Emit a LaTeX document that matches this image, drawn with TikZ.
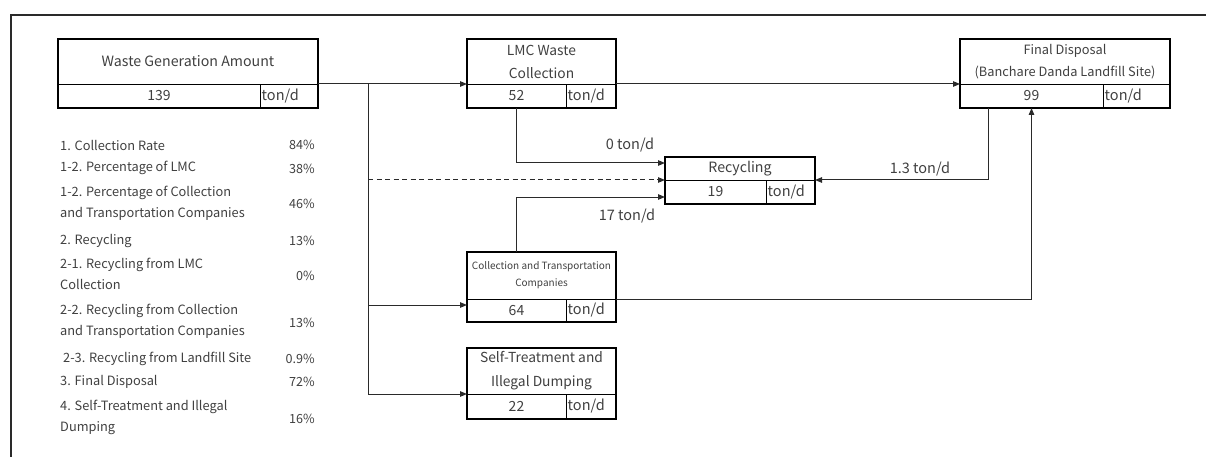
\documentclass[tikz,border=0pt]{standalone}
\usepackage{fontspec}
\setmainfont{Noto Sans CJK JP}
\usetikzlibrary{arrows.meta,calc,fit}

\definecolor{textgray}{HTML}{404040}
\definecolor{linegray}{HTML}{2A2A2A}

% one flow box: title row on top, value + unit row below
% #1 name, #2 left, #3 top, #4 value/unit split, #5 row split, #6 right, #7 bottom, #8 value
\newcommand\flowbox[8]{%
  \node[cell, fit={(#2,#3) (#6,#5)}] (#1-t) {};
  \node[cell, fit={(#2,#5) (#4,#7)}] (#1-v) {};
  \node[cell, fit={(#4,#5) (#6,#7)}] (#1-u) {};
  \node[val] (#1-n) at (#1-v.center) {#8};
  \node[unit, anchor=west] (#1-d) at ($(#1-u.west)+(1.5,0)$) {ton/d};
  \draw[frame] (#1-t.north west) rectangle (#1-u.south east);
}

\begin{document}
\begin{tikzpicture}[x=1pt,y=-1pt,
  cell/.style={draw=black, line width=0.8pt, inner sep=0pt, outer sep=0pt},
  frame/.style={draw=black, line width=2pt},
  txt/.style={text=textgray, inner sep=0pt},
  val/.style={txt, font=\fontsize{14}{15}\selectfont},
  unit/.style={txt, font=\fontsize{14.5}{15}\selectfont},
  ttl/.style={txt, align=center},
  lst/.style={txt, font=\fontsize{12.8}{21}\selectfont, align=left, anchor=west},
  pct/.style={txt, font=\fontsize{12.6}{14}\selectfont, anchor=east},
  lbl/.style={txt, font=\fontsize{14.5}{15}\selectfont},
  flow/.style={draw=linegray, line width=1pt},
  tip/.style={-{Triangle[length=7pt,width=5.5pt]}},
]
\useasboundingbox (0,0) rectangle (1206,457);

% page frame
\draw[line width=1.2pt, draw=linegray] (11,457) -- (11,15) -- (1206,15);

% boxes
\flowbox{wg}{58}{39}{260}{84}{318}{108}{139}
\flowbox{lmc}{467}{39}{566}{84}{616}{108}{52}
\flowbox{fd}{960}{39}{1103}{84}{1170}{108}{99}
\flowbox{rec}{665}{157}{766}{180}{815}{204}{19}
\flowbox{cc}{467}{252}{566}{299}{616}{322}{64}
\flowbox{st}{467}{348}{566}{394}{616}{419}{22}

% box titles
\node[ttl, font=\fontsize{14.2}{23}\selectfont] (wg-l) at (wg-t.center) {Waste Generation Amount};
\node[ttl, font=\fontsize{13.8}{23}\selectfont] (lmc-l) at (lmc-t.center) {LMC Waste\\Collection};
\node[ttl, font=\fontsize{12.8}{22}\selectfont] (fd-l) at (fd-t.center) {Final Disposal\\(Banchare Danda Landfill Site)};
\node[ttl, font=\fontsize{14.2}{23}\selectfont] (rec-l) at (rec-t.center) {Recycling};
\node[ttl, font=\fontsize{10}{17}\selectfont] (cc-l) at (cc-t.center) {Collection and Transportation\\Companies};
\node[ttl, font=\fontsize{13.8}{24}\selectfont] (st-l) at (st-t.center) {Self-Treatment and\\Illegal Dumping};

% indicators
\node[lst] (i1)  at (60,145) {1. Collection Rate};
\node[pct] (p1)  at (315,145) {84\%};
\node[lst] (i2)  at (60,168) {1-2. Percentage of LMC};
\node[pct] (p2)  at (315,169) {38\%};
\node[lst] (i3)  at (60,203) {1-2. Percentage of Collection\\and Transportation Companies};
\node[pct] (p3)  at (315,204) {46\%};
\node[lst] (i4)  at (60,241) {2. Recycling};
\node[pct] (p4)  at (315,241) {13\%};
\node[lst] (i5)  at (60,274) {2-1. Recycling from LMC\\Collection};
\node[pct] (p5)  at (315,276) {0\%};
\node[lst] (i6)  at (60,321) {2-2. Recycling from Collection\\and Transportation Companies};
\node[pct] (p6)  at (315,323) {13\%};
\node[lst] (i7)  at (63,359) {2-3. Recycling from Landfill Site};
\node[pct] (p7)  at (315,359) {0.9\%};
\node[lst] (i8)  at (60,382) {3. Final Disposal};
\node[pct] (p8)  at (315,382) {72\%};
\node[lst] (i9)  at (60,417) {4. Self-Treatment and Illegal\\Dumping};
\node[pct] (p9)  at (315,419) {16\%};

% distribution trunk
\coordinate (trunk-top) at (368,84);
\coordinate (tap-rec) at (368,180);
\coordinate (tap-cc) at (368,305);
\coordinate (trunk-bot) at (368,394);
\draw[flow] (trunk-top) -- (trunk-bot);
\draw[flow, tip] (wg-t.south east) -- (lmc-t.south west);
\draw[flow, tip, dash pattern=on 5pt off 3.5pt] (tap-rec) -- (rec-t.south west);
\draw[flow, tip] (tap-cc) -- (cc-t.west |- tap-cc);
\draw[flow, tip] (trunk-bot) -- (st-t.south west);

% onward flows
\draw[flow, tip] (lmc-t.south east) -- (fd-t.south west);
\draw[flow, tip] (lmc-v.south) |- ($(rec-t.north west)+(0,6)$);
\draw[flow, tip] (cc-v.center |- cc-t.north) |- ($(rec-v.south west)+(0,-7)$);
\draw[flow, tip] ($(fd-v.south west)+(28,0)$) |- (rec-t.south east);
\draw[flow, tip] (cc-t.south east) -| (fd-v.south);

% flow labels
\node[lbl] (l0)  at (630,145) {0 ton/d};
\node[lbl] (l17) at (627,216) {17 ton/d};
\node[lbl] (l13) at (920,169) {1.3 ton/d};
\end{tikzpicture}
\end{document}
